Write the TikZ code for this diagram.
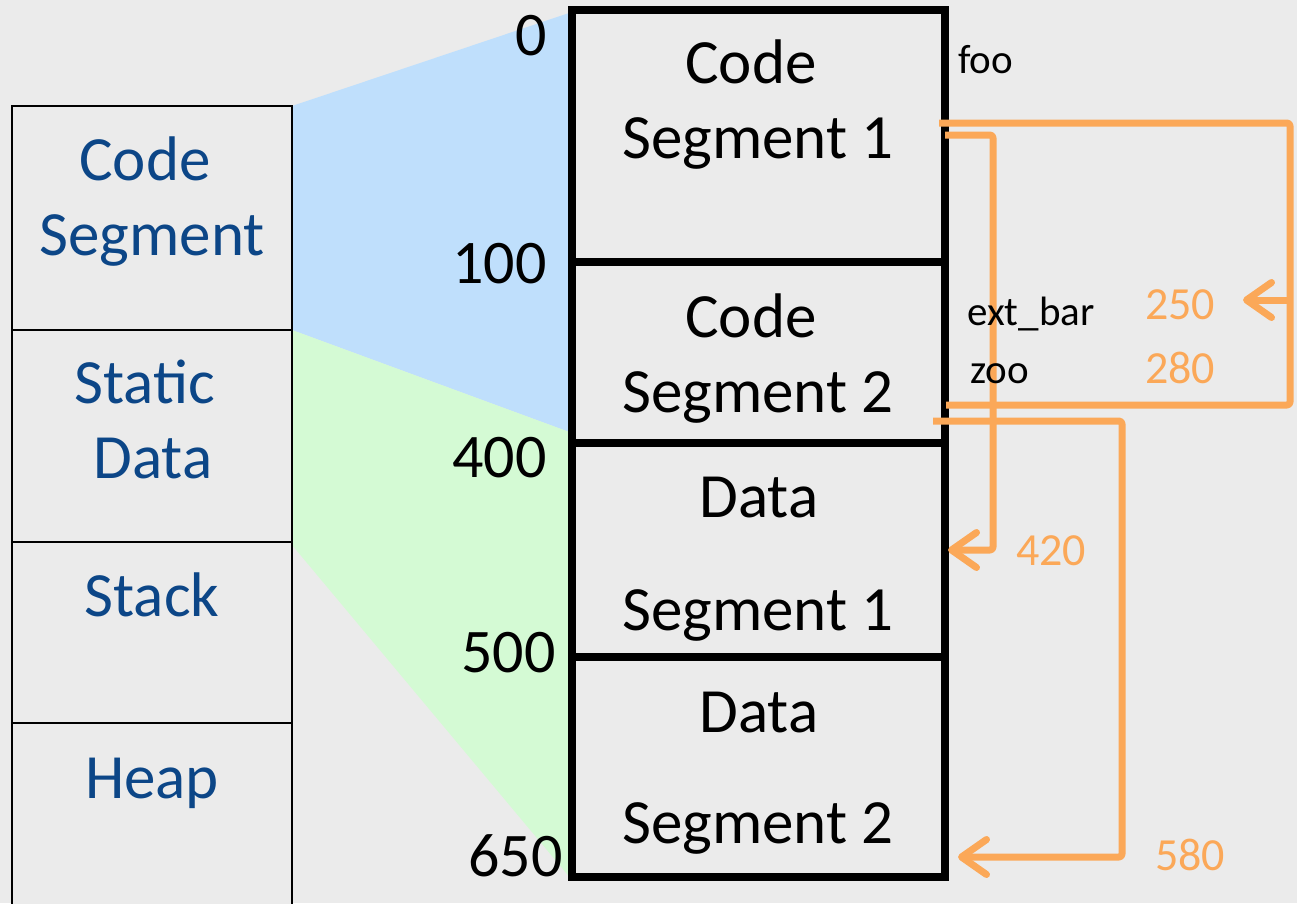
\documentclass[tikz,border=0pt]{standalone}
\usepackage{fontspec}
\setmainfont{Carlito}
\usetikzlibrary{arrows.meta}

\definecolor{pagebg}{RGB}{235,235,235}
\definecolor{labelblue}{RGB}{12,70,135}
\definecolor{codewedge}{RGB}{191,223,252}
\definecolor{datawedge}{RGB}{212,250,212}
\definecolor{linkorange}{RGB}{251,168,88}

\tikzset{
  regionbox/.style={draw=black, line width=2.5pt, fill=pagebg},
  segbox/.style={draw=black, line width=7.5pt, fill=pagebg},
  bigtext/.style={inner sep=0pt, font=\fontsize{63}{76}\selectfont},
  regiontext/.style={bigtext, text=labelblue, anchor=base},
  segtext/.style={bigtext, text=black, anchor=base},
  addrtext/.style={inner sep=0pt, font=\fontsize{62}{74}\selectfont, anchor=base east},
  symtext/.style={inner sep=0pt, font=\fontsize{41}{49}\selectfont, anchor=base west},
  offtext/.style={inner sep=0pt, font=\fontsize{46}{55}\selectfont, text=linkorange, anchor=base west},
  link/.style={draw=linkorange, line width=7pt, line join=round, line cap=butt, rounded corners=3pt},
  linkarrow/.style={link, -{Straight Barb[length=25pt,width=35pt,round]}},
}

\begin{document}
\begin{tikzpicture}[x=1pt, y=-1pt]
  % page
  \fill[pagebg] (0,0) rectangle (1297,903);
  \useasboundingbox (0,0) rectangle (1297,903);

  % mapping wedges from the logical regions to the physical segments
  \fill[codewedge] (292,106) -- (572,12) -- (572,433) -- (292,330) -- cycle;
  \fill[datawedge] (292,330) -- (572,433) -- (572,880) -- (292,545) -- cycle;

  % logical address space
  \draw[regionbox] (12,106) rectangle (292,330);
  \draw[regionbox] (12,330) rectangle (292,542);
  \draw[regionbox] (12,542) rectangle (292,723);
  \draw[regionbox] (12,723) rectangle (292,915);

  \node[regiontext] (lcode)   at (145,180) {Code};
  \node[regiontext] (lseg)    at (152,255) {Segment};
  \node[regiontext] (lstatic) at (145,403) {Static};
  \node[regiontext] (ldata)   at (153,478) {Data};
  \node[regiontext] (lstack)  at (152,616) {Stack};
  \node[regiontext] (lheap)   at (152,798) {Heap};

  % physical segments
  \draw[segbox] (572,10)  rectangle (945,262);
  \draw[segbox] (572,262) rectangle (945,443);
  \draw[segbox] (572,443) rectangle (945,657);
  \draw[segbox] (572,657) rectangle (945,877);

  \node[segtext] (cs1a) at (751,83)  {Code};
  \node[segtext] (cs1b) at (758,158) {Segment 1};
  \node[segtext] (cs2a) at (751,337) {Code};
  \node[segtext] (cs2b) at (758,412) {Segment 2};
  \node[segtext] (ds1a) at (759,517) {Data};
  \node[segtext] (ds1b) at (758,630) {Segment 1};
  \node[segtext] (ds2a) at (759,732) {Data};
  \node[segtext] (ds2b) at (758,843) {Segment 2};

  % addresses
  \node[addrtext] (a0)   at (547,55)  {0};
  \node[addrtext] (a100) at (547,283) {100};
  \node[addrtext] (a400) at (547,477) {400};
  \node[addrtext] (a500) at (556,672) {500};
  \node[addrtext] (a650) at (563,876) {650};

  % link points
  \coordinate (fooout)  at (939,123);
  \coordinate (outerNE) at (1290,123);
  \coordinate (outerSE) at (1290,405);
  \coordinate (zooout)  at (946,405);
  \coordinate (barrow)  at (1290,300);
  \coordinate (bartip)  at (1243,300);
  \coordinate (dataout) at (945,135);
  \coordinate (dataNE)  at (993,135);
  \coordinate (dataSE)  at (993,550);
  \coordinate (datatip) at (948,550);
  \coordinate (zoo2out) at (933,421);
  \coordinate (farNE)   at (1122,421);
  \coordinate (farSE)   at (1122,857);
  \coordinate (fartip)  at (958,857);

  % links
  \draw[link] (fooout) -- (outerNE) -- (outerSE) -- (zooout);
  \draw[linkarrow] (barrow) -- (bartip);
  \draw[linkarrow] (dataout) -- (dataNE) -- (dataSE) -- (datatip);
  \draw[linkarrow] (zoo2out) -- (farNE) -- (farSE) -- (fartip);

  % symbols, set over the links
  \node[symtext] (foo)    at (958,73)  {foo};
  \node[symtext] (extbar) at (967,325) {ext\_bar};
  \node[symtext] (zoo)    at (970,383) {zoo};

  % resolved offsets
  \node[offtext] (o250) at (1145,319) {250};
  \node[offtext] (o280) at (1145,383) {280};
  \node[offtext] (o420) at (1016,565) {420};
  \node[offtext] (o580) at (1155,870) {580};
\end{tikzpicture}
\end{document}
